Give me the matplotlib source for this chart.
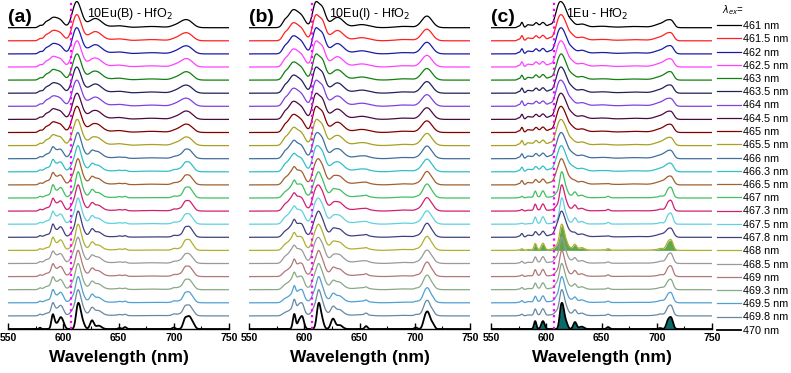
import numpy as np
import matplotlib
matplotlib.use("Agg")
import matplotlib.pyplot as plt
from matplotlib.ticker import MultipleLocator

plt.rcParams['font.family'] = ['Liberation Sans', 'DejaVu Sans']

# excitation wavelengths (legend) and line colours
ex_labels = ["461 nm", "461.5 nm", "462 nm", "462.5 nm", "463 nm", "463.5 nm",
             "464 nm", "464.5 nm", "465 nm", "465.5 nm", "466 nm", "466.3 nm",
             "466.5 nm", "467 nm", "467.3 nm", "467.5 nm", "467.8 nm", "468 nm",
             "468.5 nm", "469 nm", "469.3 nm", "469.5 nm", "469.8 nm", "470 nm"]
colors = ["#000000", "#ff2020", "#1a1aa8", "#ff40ff", "#108010", "#20205a",
          "#8040e0", "#4a0a40", "#800000", "#a8a020", "#40709a", "#30c0c8",
          "#a06030", "#40c060", "#d02070", "#60d0e0", "#404080", "#b0b030",
          "#9a9a9a", "#b07878", "#88a888", "#50a0d0", "#6888a0", "#000000"]

# emission bands: (centre nm, rel. height, fwhm nm)
# "broad" = top spectrum (461 nm), "sharp" = bottom spectrum (470 nm)
broad_a = [(579, 0.08, 4), (584, 0.10, 4), (591, 0.42, 11), (598, 0.18, 7),
           (611, 0.80, 8), (615, 0.45, 8), (629, 0.38, 14), (650, 0.08, 14),
           (680, 0.05, 24), (700, 0.05, 8), (708, 0.22, 11), (714, 0.20, 10)]
sharp_a = [(579, 0.06, 2), (590.5, 0.62, 3), (593, 0.22, 4), (597, 0.42, 4),
           (599.5, 0.30, 4), (612.5, 0.50, 3.5), (614.5, 0.95, 4.5), (618, 0.22, 4),
           (626, 0.40, 4), (632, 0.16, 6), (651, 0.05, 3), (656, 0.09, 3),
           (700, 0.07, 3), (710, 0.38, 4), (714, 0.58, 5.5), (718, 0.14, 4)]
broad_b = [(582, 0.15, 5), (590, 0.68, 11), (598, 0.32, 8), (610, 0.85, 6.5),
           (616, 0.75, 7.5), (630, 0.40, 13), (652, 0.12, 16), (690, 0.05, 18),
           (711, 0.45, 11)]
sharp_b = [(591, 0.62, 3), (595, 0.25, 3), (598, 0.52, 4), (613, 1.00, 4),
           (616, 0.35, 4), (626, 0.42, 4.5), (632, 0.16, 6), (656, 0.12, 3),
           (701, 0.06, 3), (709, 0.36, 4), (712, 0.62, 4.5), (716, 0.22, 4)]
broad_c = [(575, 0.06, 3), (578, 0.22, 2.5), (583, 0.08, 3), (586, 0.10, 5),
           (591, 0.20, 4), (597, 0.22, 5), (603, 0.10, 4), (612, 1.00, 8),
           (617, 0.45, 6), (622, 0.28, 7), (632, 0.15, 10), (650, 0.06, 18),
           (680, 0.05, 24), (703, 0.14, 12), (710, 0.25, 8), (714, 0.15, 5)]
sharp_c = [(590, 0.40, 2.5), (597, 0.40, 3.5), (613, 0.70, 3), (615, 1.00, 3.5),
           (618, 0.30, 3.5), (626, 0.35, 3.5), (632, 0.12, 5), (656, 0.10, 3),
           (703, 0.05, 3), (710, 0.35, 3.5), (713, 0.55, 4)]

# fraction of the sharp spectrum in each trace (461 -> 470 nm)
mix_a = [0, 0, 0, 0.05, 0.05, 0, 0, 0.05, 0.05, 0.1, 0.3, 0.4, 0.4, 0.6,
         0.5, 0.5, 0.6, 0.6, 0.4, 0.5, 0.5, 0.6, 0.6, 1.0]
mix_b = [0, 0, 0, 0, 0, 0, 0, 0, 0, 0.05, 0.1, 0.1, 0.2, 0.3,
         0.2, 0.2, 0.3, 0.3, 0.2, 0.4, 0.4, 0.5, 0.6, 1.0]
mix_c = [0, 0.05, 0.05, 0.05, 0.1, 0.05, 0, 0.05, 0.05, 0.05, 0.1, 0.15, 0.2, 0.7,
         0.7, 0.8, 0.3, 0.7, 0.6, 0.7, 0.6, 0.6, 0.7, 1.0]

panels = [("(a)", "10Eu(B) - HfO$_2$", broad_a, sharp_a, mix_a),
          ("(b)", "10Eu(I) - HfO$_2$", broad_b, sharp_b, mix_b),
          ("(c)", "1Eu - HfO$_2$", broad_c, sharp_c, mix_c)]

wl = np.arange(550, 750.01, 0.25)


def band(peaks):
    y = np.zeros_like(wl)
    for c, h, w in peaks:
        y += h * np.exp(-4 * np.log(2) * ((wl - c) / w) ** 2)
    return y


fig = plt.figure(figsize=(7.91, 3.73), dpi=100)
W, H = 791, 373
lefts = [8, 249, 491]
width = 221
base_px = 329
step_px = 13.1
n = len(ex_labels)

for k, (tag, title, broad, sharp, mix) in enumerate(panels):
    ax = fig.add_axes([lefts[k] / W, 1 - base_px / H, width / W, base_px / H])
    b = band(broad)
    s = band(sharp)
    b /= b.max()
    s /= s.max()
    handles = []
    for i in range(n):
        off = n - 1 - i
        sp = (1 - mix[i]) * b + mix[i] * s
        sp = 2.0 * sp / sp.max()
        if k == 2 and i == 17:
            ax.fill_between(wl, off, off + sp * 0.95, color="#2a8a10", alpha=0.75, lw=0, zorder=2)
        if k == 2 and i == n - 1:
            ax.fill_between(wl, off, off + sp, color="#0a6a6a", lw=0, zorder=2)
        ln, = ax.plot(wl, off + sp, color=colors[i], lw=1.3 if i == n - 1 else 0.9, zorder=3)
        handles.append(ln)
    ax.axvline(607, color="#ff00ff", ls=":", lw=1.6, zorder=5)
    ax.set_xlim(550, 750)
    ax.set_ylim(0, base_px / step_px)
    for sp_name in ("left", "right", "top"):
        ax.spines[sp_name].set_visible(False)
    ax.spines["bottom"].set_linewidth(1.0)
    ax.set_yticks([])
    ax.xaxis.set_major_locator(MultipleLocator(50))
    ax.xaxis.set_minor_locator(MultipleLocator(25))
    ax.tick_params(axis="x", which="major", direction="in", length=4, width=1,
                   labelsize=7.5, pad=3)
    ax.tick_params(axis="x", which="minor", direction="in", length=2, width=0.8)
    for lab in ax.get_xticklabels():
        lab.set_fontweight("bold")
    ax.set_xlabel("Wavelength (nm)", fontsize=12.5, fontweight="bold", labelpad=5)
    ax.patch.set_visible(False)

    fig.text((lefts[k]) / W, 1 - 18 / H, tag, fontsize=14, fontweight="bold",
             va="center", ha="left")
    title_x = [87, 329, 566][k]
    fig.text(title_x / W, 1 - 14 / H, title, fontsize=9, va="center", ha="left")

fig.text(722 / W, 1 - 10 / H, r"$\lambda_{ex}$=", fontsize=7, va="center", ha="left")
fig.legend(handles, ex_labels, loc="upper left", bbox_to_anchor=(717 / W, 1 - 21 / H),
           frameon=False, fontsize=7.8, handlelength=2.2, handletextpad=0.2,
           labelspacing=0.30, borderpad=0, borderaxespad=0)

fig.savefig("out.png", dpi=100)
